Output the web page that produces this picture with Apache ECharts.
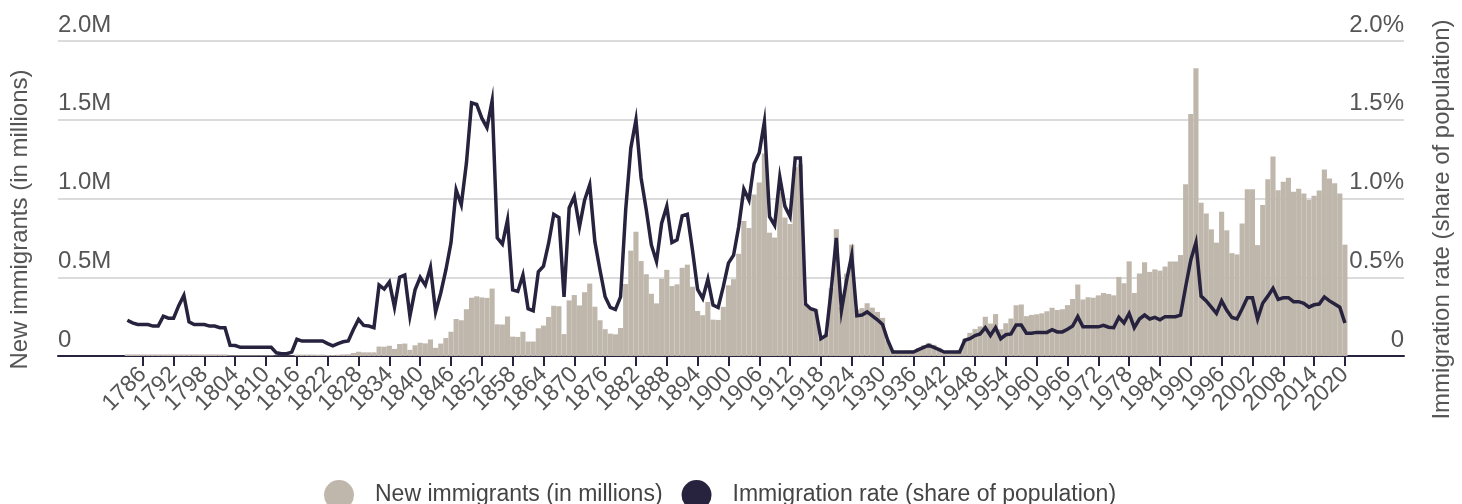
<!DOCTYPE html>
<html><head><meta charset="utf-8">
<script src="https://cdn.jsdelivr.net/npm/echarts@6/dist/echarts.min.js"></script>
<style>html,body{margin:0;padding:0;background:#fff}#c{width:1462px;height:504px}</style>
</head><body><div id="c"></div>
<script>
// ---- data ----
const firstYear = 1783;
const lastYear = 2020;
const tickLabelStartYear = 1786;
const tickLabelStep = 6;
const seriesNames = ['New immigrants (in millions)', 'Immigration rate (share of population)'];
const leftTicks = [0, 0.5, 1.0, 1.5, 2.0];      // millions
const rightTicks = [0, 0.5, 1.0, 1.5, 2.0];     // percent

// New immigrants, millions, 1783..2020
const newImmigrants = [
  // 1783-1802
  0.01,0.01,0.01,0.01,0.01,0.01,0.01,0.01,0.01,0.01,0.01,0.01,0.01,0.01,0.01,0.01,0.01,0.01,0.01,0.01,
  // 1803-1811
  0.004,0.004,0.004,0.004,0.004,0.004,0.004,0.004,0.004,
  // 1812-1815
  0.0015,0.0015,0.0015,0.0015,
  // 1816-1819
  0.009,0.009,0.009,0.009,
  // 1820s
  0.008,0.009,0.007,0.006,0.008,0.010,0.011,0.019,0.027,0.023,
  // 1830s
  0.023,0.023,0.060,0.059,0.065,0.045,0.076,0.079,0.039,0.068,
  // 1840s
  0.084,0.080,0.105,0.052,0.079,0.114,0.154,0.235,0.227,0.297,
  // 1850s
  0.370,0.379,0.372,0.369,0.428,0.201,0.200,0.251,0.123,0.121,
  // 1860s
  0.154,0.092,0.092,0.176,0.193,0.248,0.319,0.316,0.139,0.353,
  // 1870s
  0.387,0.321,0.405,0.460,0.313,0.227,0.170,0.142,0.138,0.178,
  // 1880s
  0.457,0.669,0.789,0.603,0.519,0.395,0.334,0.490,0.547,0.444,
  // 1890s
  0.455,0.560,0.580,0.440,0.286,0.259,0.343,0.231,0.229,0.312,
  // 1900s
  0.449,0.488,0.649,0.857,0.813,1.026,1.101,1.285,0.783,0.752,
  // 1910s
  1.042,0.879,0.838,1.198,1.218,0.327,0.299,0.295,0.111,0.141,
  // 1920s
  0.430,0.805,0.310,0.523,0.707,0.294,0.304,0.335,0.307,0.280,
  // 1930s
  0.242,0.097,0.036,0.023,0.029,0.035,0.036,0.050,0.068,0.083,
  // 1940s
  0.071,0.052,0.029,0.024,0.029,0.038,0.109,0.147,0.171,0.188,
  // 1950s
  0.249,0.206,0.266,0.170,0.208,0.238,0.322,0.327,0.253,0.261,
  // 1960s
  0.265,0.271,0.284,0.306,0.292,0.297,0.323,0.362,0.454,0.359,
  // 1970s
  0.373,0.370,0.385,0.400,0.394,0.385,0.502,0.462,0.601,0.400,
  // 1980s
  0.524,0.595,0.534,0.550,0.542,0.568,0.600,0.600,0.641,1.090,
  // 1990s
  1.536,1.827,0.973,0.904,0.804,0.720,0.916,0.798,0.653,0.645,
  // 2000s
  0.841,1.059,1.059,0.704,0.958,1.122,1.266,1.052,1.107,1.131,
  // 2010s
  1.043,1.062,1.032,0.991,1.017,1.051,1.184,1.127,1.097,1.032,
  // 2020
  0.707
];

// Immigration rate, percent of population, 1783..2020
const immigrationRate = [
  // 1783-1802
  0.227,0.21,0.20,0.20,0.20,0.19,0.19,0.253,0.24,0.24,0.32,0.385,0.217,0.20,0.20,0.20,0.19,0.19,0.18,0.18,
  // 1803-1811
  0.068,0.066,0.055,0.055,0.055,0.055,0.055,0.055,0.055,
  // 1812-1815
  0.02,0.015,0.015,0.025,
  // 1816-1819
  0.106,0.095,0.095,0.095,
  // 1820s
  0.095,0.095,0.079,0.064,0.079,0.09,0.095,0.168,0.232,0.194,
  // 1830s
  0.19,0.18,0.45,0.425,0.47,0.31,0.50,0.514,0.253,0.42,
  // 1840s
  0.50,0.45,0.563,0.28,0.40,0.546,0.72,1.055,0.96,1.225,
  // 1850s
  1.607,1.597,1.51,1.45,1.62,0.75,0.71,0.864,0.42,0.41,
  // 1860s
  0.514,0.30,0.287,0.535,0.57,0.716,0.90,0.88,0.376,0.94,
  // 1870s
  1.013,0.82,0.99,1.087,0.726,0.546,0.376,0.308,0.295,0.376,
  // 1880s
  0.928,1.32,1.50,1.13,0.93,0.705,0.60,0.843,0.95,0.72,
  // 1890s
  0.737,0.89,0.90,0.673,0.423,0.366,0.487,0.323,0.308,0.44,
  // 1900s
  0.59,0.64,0.82,1.06,0.99,1.22,1.29,1.487,0.885,0.83,
  // 1910s
  1.136,0.95,0.885,1.257,1.257,0.33,0.30,0.29,0.11,0.13,
  // 1920s
  0.42,0.75,0.29,0.48,0.64,0.255,0.26,0.28,0.255,0.23,
  // 1930s
  0.20,0.10,0.025,0.025,0.025,0.025,0.025,0.04,0.055,0.068,
  // 1940s
  0.055,0.04,0.025,0.025,0.025,0.025,0.10,0.11,0.13,0.14,
  // 1950s
  0.18,0.13,0.18,0.11,0.135,0.14,0.197,0.197,0.145,0.145,
  // 1960s
  0.15,0.15,0.15,0.167,0.153,0.153,0.17,0.19,0.25,0.185,
  // 1970s
  0.185,0.185,0.185,0.195,0.183,0.18,0.246,0.21,0.27,0.18,
  // 1980s
  0.235,0.26,0.235,0.245,0.23,0.25,0.25,0.25,0.26,0.44,
  // 1990s
  0.61,0.72,0.38,0.35,0.31,0.27,0.35,0.29,0.245,0.235,
  // 2000s
  0.30,0.37,0.37,0.235,0.335,0.38,0.43,0.36,0.37,0.37,
  // 2010s
  0.345,0.345,0.335,0.31,0.325,0.33,0.375,0.35,0.33,0.31,
  // 2020
  0.21
];

// ---- layout / styles ----
const padBefore = 13, padAfter = 11;   // empty years at the ends of the axis
const barColor = '#bfb7ac';
const lineColor = '#27223d';
const textColor = '#555555';
const fontFamily = '"Liberation Sans", Arial, sans-serif';

const axisYears = [];
for (let y = firstYear - padBefore; y <= lastYear + padAfter; y++) axisYears.push(String(y));
const nullsBefore = new Array(padBefore).fill(null);
const nullsAfter = new Array(padAfter).fill(null);
const barData = nullsBefore.concat(newImmigrants, nullsAfter);
const lineData = nullsBefore.concat(immigrationRate, nullsAfter);

const isLabelYear = (val) => {
  const y = +val;
  return y >= firstYear && y <= lastYear && (y - tickLabelStartYear) % tickLabelStep === 0;
};
const tickInterval = (idx, val) => isLabelYear(val);
// empty sentinel labels at both ends keep the first/last real labels from being auto-hidden
const labelInterval = (idx, val) => idx === 0 || idx === axisYears.length - 1 || isLabelYear(val);

const chart = echarts.init(document.getElementById('c'), null, {renderer: 'canvas'});
chart.setOption({
  animation: false,
  backgroundColor: '#ffffff',
  grid: {left: 55, right: 56, top: 41, bottom: 148, containLabel: false},
  legend: {
    left: 319, top: 475,
    itemWidth: 30, itemHeight: 30, itemGap: 19,
    textStyle: {fontFamily, fontSize: 23, color: '#444', padding: [0, 0, 0, 16]},
    data: [{name: seriesNames[0], icon: 'circle'}, {name: seriesNames[1], icon: 'circle'}]
  },
  xAxis: {
    type: 'category',
    data: axisYears,
    boundaryGap: true,
    axisLine: {lineStyle: {color: lineColor, width: 2}},
    axisTick: {show: true, interval: tickInterval, alignWithLabel: true, length: 10, lineStyle: {color: lineColor, width: 2}},
    axisLabel: {interval: labelInterval, rotate: 45, margin: 15, color: textColor, fontFamily, fontSize: 23,
      hideOverlap: false, formatter: v => isLabelYear(v) ? v : ''},
    splitLine: {show: false}
  },
  yAxis: [
    {
      type: 'value', min: leftTicks[0], max: leftTicks[leftTicks.length - 1],
      interval: leftTicks[1] - leftTicks[0],
      position: 'left',
      name: seriesNames[0], nameLocation: 'middle', nameRotate: 90, nameGap: 26,
      nameTextStyle: {fontFamily, fontSize: 24, color: textColor, padding: [0, 42, 0, 0]},
      axisLine: {show: false}, axisTick: {show: false},
      axisLabel: {inside: true, margin: 0, verticalAlign: 'bottom', padding: [0, 0, 4, 0],
        color: textColor, fontFamily, fontSize: 24,
        formatter: v => v === 0 ? '0' : v.toFixed(1) + 'M'},
      splitLine: {show: true, lineStyle: {color: '#cfcfcf', width: 1.5}}
    },
    {
      type: 'value', min: rightTicks[0], max: rightTicks[rightTicks.length - 1],
      interval: rightTicks[1] - rightTicks[0],
      position: 'right',
      name: seriesNames[1], nameLocation: 'middle', nameRotate: 90, nameGap: 26,
      nameTextStyle: {fontFamily, fontSize: 24, color: textColor, padding: [0, 42, 0, 0]},
      axisLine: {show: false}, axisTick: {show: false},
      axisLabel: {inside: true, margin: 0, verticalAlign: 'bottom', padding: [0, 0, 4, 0],
        color: textColor, fontFamily, fontSize: 24,
        formatter: v => v === 0 ? '0' : v.toFixed(1) + '%'},
      splitLine: {show: false}
    }
  ],
  series: [
    {
      name: seriesNames[0], type: 'bar', yAxisIndex: 0,
      data: barData, barCategoryGap: '0%', barGap: '0%',
      itemStyle: {color: barColor}, z: 2
    },
    {
      name: seriesNames[1], type: 'line', yAxisIndex: 1,
      data: lineData, showSymbol: false, symbol: 'none',
      lineStyle: {color: lineColor, width: 3.5, join: 'miter'},
      itemStyle: {color: lineColor}, z: 3
    }
  ]
});
</script>
</body></html>
